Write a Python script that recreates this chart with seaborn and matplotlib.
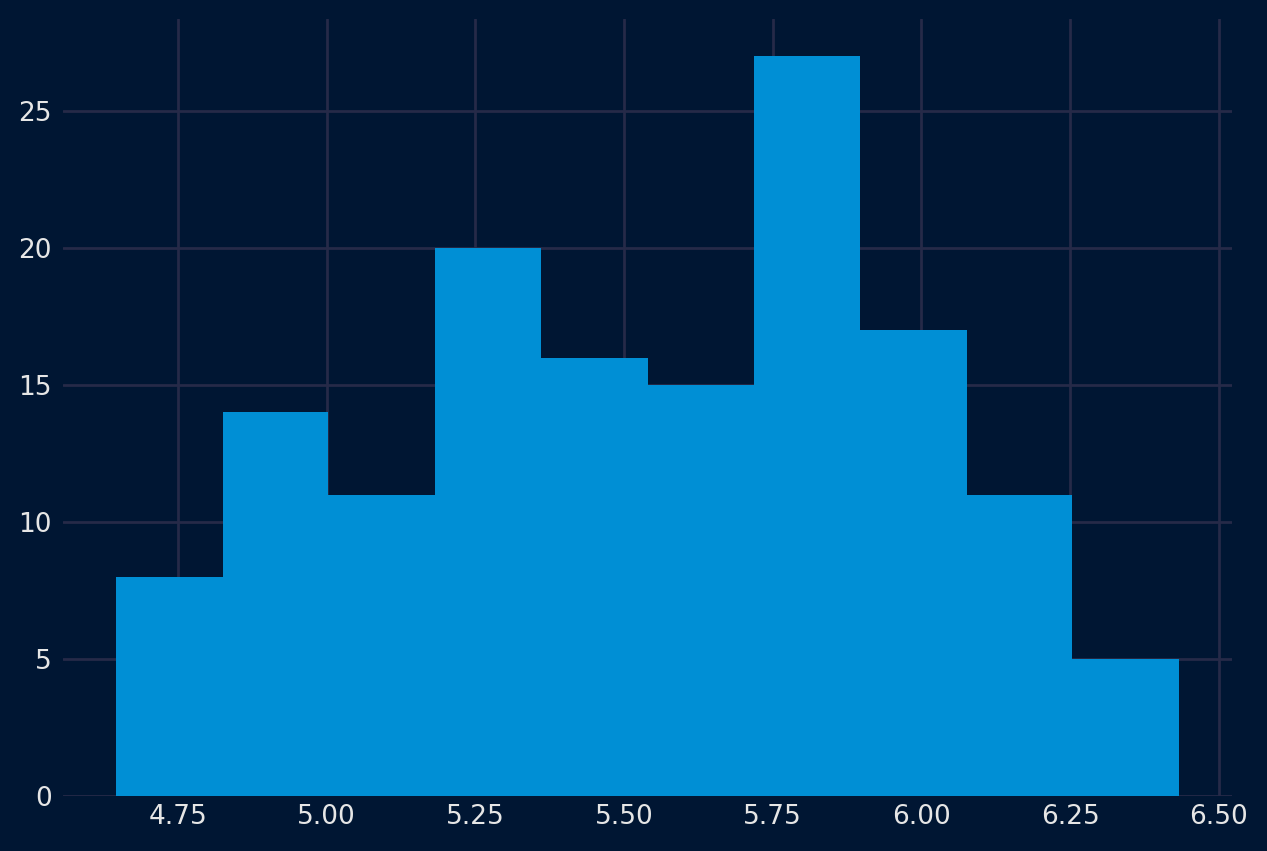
import numpy as np
import pandas as pd
import matplotlib
matplotlib.use("Agg")
import matplotlib.pyplot as plt
import seaborn as sns

# Histogram data
bin_edges = [4.646, 4.825, 5.003, 5.182, 5.361, 5.540, 5.718, 5.897, 6.076, 6.254, 6.433]
counts = [8, 14, 11, 20, 16, 15, 27, 17, 11, 5]
x_ticks = [4.75, 5.00, 5.25, 5.50, 5.75, 6.00, 6.25, 6.50]
y_ticks = [0, 5, 10, 15, 20, 25]

bg = "#001633"
bar_color = "#008fd5"
grid_color = "#262a48"
text_color = "#e6e6e6"

sns.set_theme(style="darkgrid")
plt.rcParams['font.family'] = ['DejaVu Sans']

centers = [(a + b) / 2 for a, b in zip(bin_edges[:-1], bin_edges[1:])]
df = pd.DataFrame({"value": centers, "count": counts})

fig = plt.figure(figsize=(12.67, 8.51), dpi=100, facecolor=bg)
ax = fig.add_axes([63 / 1267, 1 - 796 / 851, (1232 - 63) / 1267, (796 - 19) / 851])
ax.set_facecolor(bg)

sns.histplot(data=df, x="value", weights="count", bins=bin_edges, ax=ax,
             color=bar_color, alpha=1, edgecolor=bar_color, linewidth=0)

ax.set_axisbelow(True)
ax.grid(True, color=grid_color, linewidth=2)
for s in ax.spines.values():
    s.set_visible(False)
ax.set_xticks(x_ticks)
ax.set_xticklabels([f"{t:.2f}" for t in x_ticks])
ax.set_yticks(y_ticks)
ax.tick_params(length=0, labelsize=19, colors=text_color, pad=8)
ax.tick_params(axis="x", pad=6)
ax.set_xlabel("")
ax.set_ylabel("")
ax.margins(x=0.05, y=0.05)
ax.set_ylim(0, 28.36)

fig.savefig("out.png", dpi=100, facecolor=bg)
